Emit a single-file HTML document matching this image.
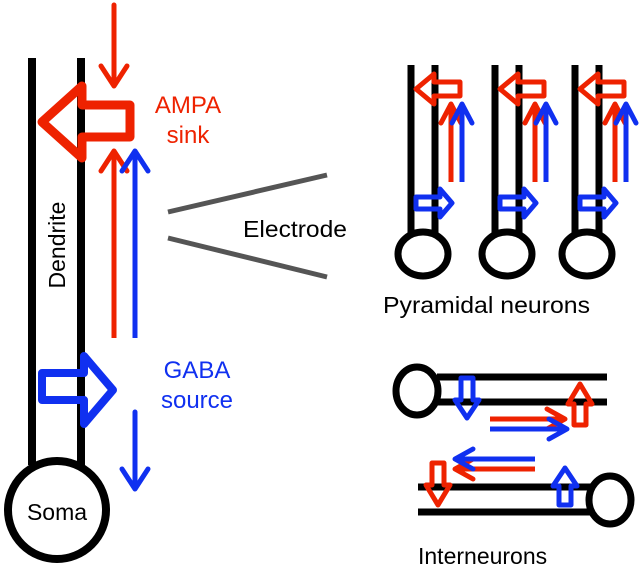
<!DOCTYPE html>
<html><head><style>body{margin:0;background:#fff}svg{display:block}</style></head>
<body>
<svg width="640" height="582" viewBox="0 0 640 582" xmlns="http://www.w3.org/2000/svg" font-family="Liberation Sans, Arial, sans-serif">
<g stroke="#000" stroke-width="8" fill="none">
<line x1="32" y1="58" x2="32" y2="465"/><line x1="81" y1="58" x2="81" y2="465"/>
<circle cx="57" cy="510" r="49" fill="#fff"/>
</g>
<g stroke="#555" stroke-width="5"><line x1="168" y1="212" x2="327" y2="175"/><line x1="168" y1="238" x2="327" y2="277"/></g>
<g fill="none" stroke-linejoin="round" stroke-linecap="round">
<path d="M130,105 L82,105 L82,86 L42,122 L82,158 L82,137 L130,137 Z" stroke="#ee2200" stroke-width="9"/>
<path d="M42,373 L84,373 L84,356 L113,390 L84,424 L84,400 L42,400 Z" stroke="#1030f0" stroke-width="8"/>
</g>
<g fill="none" stroke-width="5" stroke-linecap="round" stroke-linejoin="round">
<g stroke="#ee2200"><line x1="114" y1="5" x2="114" y2="85"/><polyline points="101,66 114,86 127,66"/>
<line x1="114" y1="152" x2="114" y2="338" stroke-linecap="butt"/><polyline points="101,171 114,151 127,171"/></g>
<g stroke="#1030f0"><line x1="135" y1="152" x2="135" y2="338" stroke-linecap="butt"/><polyline points="122,171 135,151 148,171"/>
<line x1="135" y1="412" x2="135" y2="488"/><polyline points="122,469 135,489 148,469"/></g>
</g>
<text x="188" y="113" fill="#ee2200" font-size="24" text-anchor="middle">AMPA</text>
<text x="188" y="143" fill="#ee2200" font-size="24" text-anchor="middle">sink</text>
<text x="197" y="378" fill="#1030f0" font-size="24" text-anchor="middle">GABA</text>
<text x="197" y="408" fill="#1030f0" font-size="24" text-anchor="middle">source</text>
<text x="57" y="520" font-size="23" text-anchor="middle">Soma</text>
<text transform="translate(65,245) rotate(-90)" font-size="23" text-anchor="middle">Dendrite</text>
<text x="243" y="237" font-size="23" textLength="104" lengthAdjust="spacingAndGlyphs">Electrode</text>
<text x="383" y="313" font-size="23" textLength="207" lengthAdjust="spacingAndGlyphs">Pyramidal neurons</text>
<text x="418" y="564" font-size="23">Interneurons</text>

<defs>
<g id="pyr">
<g stroke="#000" stroke-width="7" fill="none"><line x1="411" y1="65" x2="411" y2="234"/><line x1="435" y1="65" x2="435" y2="234"/>
<ellipse cx="423" cy="254" rx="25" ry="22" fill="#fff"/></g>
<g fill="none" stroke-width="5" stroke-linejoin="round">
<path d="M460,82 L434,82 L434,74 L416,89 L434,104 L434,96 L460,96 Z" stroke="#ee2200"/>
<path d="M416,197 L440,197 L440,189 L452,203 L440,217 L440,209 L416,209 Z" stroke="#1030f0"/>
<g stroke="#ee2200" stroke-linecap="round"><line x1="451" y1="105" x2="451" y2="182" stroke-linecap="butt"/><polyline points="441,123 451,104 461,123"/></g>
<g stroke="#1030f0" stroke-linecap="round"><line x1="462" y1="105" x2="462" y2="182" stroke-linecap="butt"/><polyline points="452,123 462,104 472,123"/></g>
</g>
</g>
</defs>
<use href="#pyr"/>
<use href="#pyr" transform="translate(84,0)"/>
<use href="#pyr" transform="translate(164,0)"/>

<g stroke="#000" stroke-width="7" fill="none">
<line x1="437" y1="377" x2="607" y2="377"/><line x1="437" y1="402" x2="607" y2="402"/>
<ellipse cx="417" cy="391" rx="21" ry="24" fill="#fff"/>
<line x1="418" y1="487" x2="592" y2="487"/><line x1="418" y1="512" x2="592" y2="512"/>
<ellipse cx="610" cy="500" rx="21" ry="24" fill="#fff"/>
</g>
<g fill="none" stroke-width="5" stroke-linejoin="round">
<path d="M461,378 L473,378 L473,400 L479,400 L467,418 L455,400 L461,400 Z" stroke="#1030f0"/>
<path d="M574,425 L586,425 L586,404 L592,404 L580,384 L568,404 L574,404 Z" stroke="#ee2200"/>
<path d="M432,463 L444,463 L444,485 L450,485 L438,505 L426,485 L432,485 Z" stroke="#ee2200"/>
<path d="M559,505 L571,505 L571,486 L577,486 L565,468 L553,486 L559,486 Z" stroke="#1030f0"/>
<g stroke-linecap="round">
<g stroke="#ee2200"><line x1="490" y1="419" x2="563" y2="419" stroke-linecap="butt"/><polyline points="547,409 565,419 547,429"/>
<line x1="457" y1="469" x2="535" y2="469" stroke-linecap="butt"/><polyline points="473,459 455,469 473,479"/></g>
<g stroke="#1030f0"><line x1="490" y1="429" x2="565" y2="429" stroke-linecap="butt"/><polyline points="549,419 567,429 549,439"/>
<line x1="457" y1="459" x2="535" y2="459" stroke-linecap="butt"/><polyline points="473,449 455,459 473,469"/></g>
</g>
</g>
</svg>
</body></html>
